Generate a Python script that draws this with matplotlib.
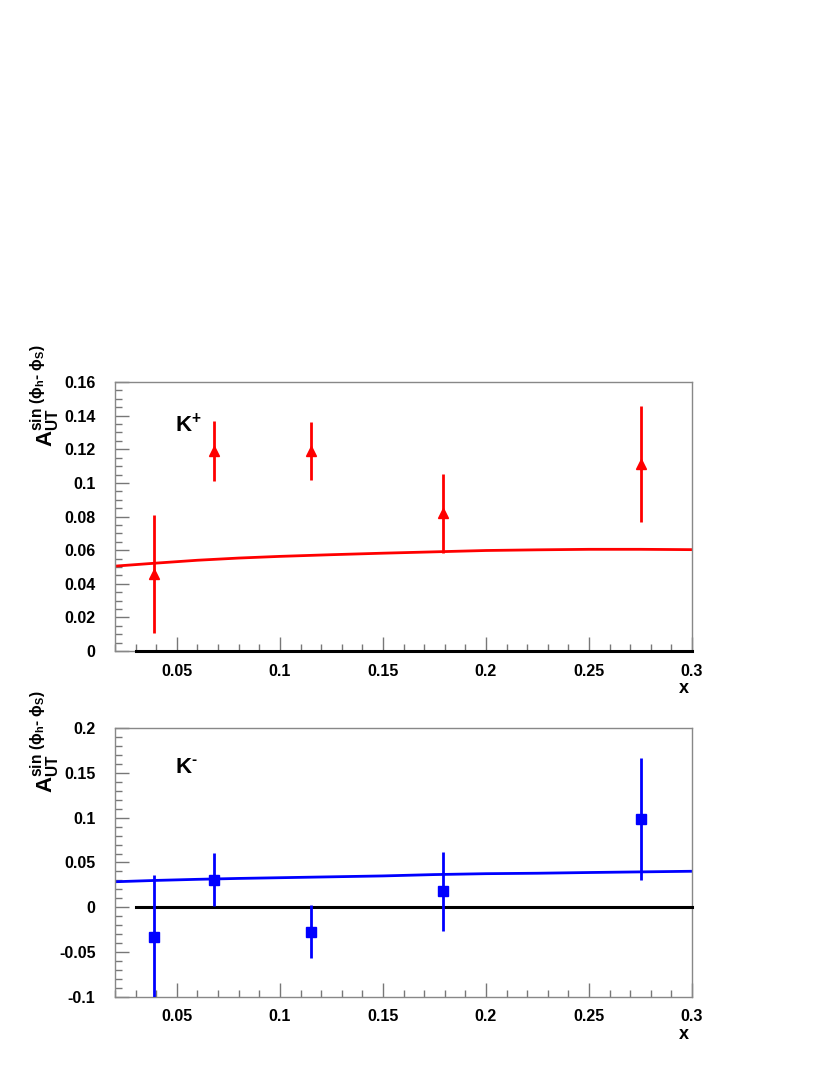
import matplotlib
matplotlib.use('Agg')
import matplotlib.pyplot as plt
from matplotlib.ticker import MultipleLocator, FormatStrFormatter
import numpy as np

plt.rcParams['font.family'] = ['Liberation Sans', 'DejaVu Sans']
plt.rcParams['font.weight'] = 'bold'
plt.rcParams['mathtext.fontset'] = 'custom'
plt.rcParams['mathtext.rm'] = 'Liberation Sans:bold'
plt.rcParams['mathtext.bf'] = 'Liberation Sans:bold'
plt.rcParams['mathtext.it'] = 'Liberation Sans:bold'

# measured points
x_data = [0.039, 0.068, 0.115, 0.179, 0.275]
kp_y = [0.046, 0.119, 0.119, 0.082, 0.111]
kp_err = [0.035, 0.018, 0.017, 0.0235, 0.0345]
km_y = [-0.033, 0.031, -0.027, 0.018, 0.099]
km_err = [0.069, 0.030, 0.030, 0.044, 0.068]

# model curves
x_th = [0.02, 0.04, 0.06, 0.08, 0.1, 0.125, 0.15, 0.175, 0.2, 0.225, 0.25, 0.275, 0.3]
kp_th = [0.0505, 0.0523, 0.0540, 0.0553, 0.0563, 0.0573, 0.0582, 0.0590, 0.0598,
         0.0602, 0.0605, 0.0605, 0.0603]
km_th = [0.0285, 0.0300, 0.0312, 0.0322, 0.0330, 0.0340, 0.0350, 0.0365, 0.0375,
         0.0380, 0.0388, 0.0395, 0.0402]

zero_x = [0.03, 0.3]

ylab = r'$\mathbf{A}_{\mathbf{UT}}^{\mathbf{sin}\ (\phi_{\mathbf{h}}\text{- }\phi_{\mathbf{S}})}$'

fig = plt.figure(figsize=(8.3, 10.75), dpi=100)
ax1 = fig.add_axes([0.1386, 0.3944, 0.6952, 0.2502])
ax2 = fig.add_axes([0.1386, 0.0726, 0.6952, 0.2502])

panels = [
    (ax1, kp_y, kp_err, kp_th, 'red', '^', (0, 0.16), 0.02, 0.005, r'$\mathbf{K^{+}}$', 0.134),
    (ax2, km_y, km_err, km_th, 'blue', 's', (-0.1, 0.2), 0.05, 0.01, r'$\mathbf{K^{\text{-}}}$', 0.156),
]

for ax, y, err, th, col, mk, ylim, maj, mnr, lab, laby in panels:
    ax.plot(x_th, th, color=col, lw=2)
    ax.plot(zero_x, [0, 0], color='black', lw=2.2, zorder=5, clip_on=False)
    ax.errorbar(x_data, y, yerr=err, fmt=mk, color=col, ms=7, elinewidth=2,
                capsize=0, zorder=6)
    ax.set_xlim(0.02, 0.3)
    ax.set_ylim(*ylim)
    ax.xaxis.set_major_locator(MultipleLocator(0.05))
    ax.xaxis.set_minor_locator(MultipleLocator(0.01))
    ax.yaxis.set_major_locator(MultipleLocator(maj))
    ax.yaxis.set_minor_locator(MultipleLocator(mnr))
    ax.xaxis.set_major_formatter(FormatStrFormatter('%g'))
    ax.yaxis.set_major_formatter(FormatStrFormatter('%g'))
    ax.tick_params(which='both', direction='in', color='#777777', width=1,
                   top=False, right=False, labelsize=11.5)
    ax.tick_params(which='major', length=10)
    ax.tick_params(which='minor', length=5)
    ax.tick_params(axis='y', pad=14)
    ax.tick_params(axis='x', pad=9)
    for s in ax.spines.values():
        s.set_color('#888888')
        s.set_linewidth(1)
    ax.text(0.049, laby, lab, fontsize=16, fontweight='bold', va='center')
    ax.text(-0.121, 0.95, ylab, transform=ax.transAxes, rotation=90,
            ha='center', va='center', fontsize=16)
    ax.text(0.995, -0.14, 'x', transform=ax.transAxes, ha='right', va='center',
            fontsize=13, fontweight='bold')

fig.savefig('out.png', dpi=100)
